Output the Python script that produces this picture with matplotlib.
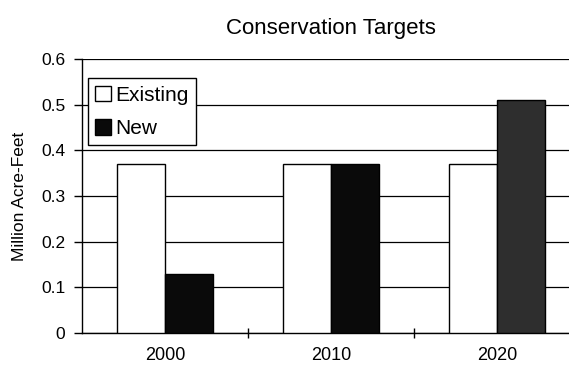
import numpy as np
import matplotlib.pyplot as plt

plt.rcParams['font.family'] = ['Liberation Sans', 'DejaVu Sans']

years = ['2000', '2010', '2020']
existing = [0.37, 0.37, 0.37]
new = [0.13, 0.37, 0.51]
new_colors = ['#0a0a0a', '#0a0a0a', '#2e2e2e']

fig = plt.figure(figsize=(5.69, 3.72), dpi=100)
ax = fig.add_axes([0.144, 0.105, 0.875, 0.736])

x = np.arange(len(years))
w = 0.29
ax.bar(x - w / 2, existing, w, color='white', edgecolor='black', linewidth=1, label='Existing', zorder=3)
ax.bar(x + w / 2, new, w, color=new_colors, edgecolor='black', linewidth=1, label='New', zorder=3)

ax.set_xlim(-0.5, 2.5)
ax.set_ylim(0, 0.6)
ax.set_yticks(np.arange(0, 0.61, 0.1))
ax.set_yticklabels(['0', '0.1', '0.2', '0.3', '0.4', '0.5', '0.6'], fontsize=12.5)
ax.yaxis.grid(True, color='black', linewidth=0.9, zorder=0)
ax.set_axisbelow(True)

ax.set_xticks(x)
ax.set_xticklabels(years, fontsize=13)
ax.set_xticks([0.5, 1.5, 2.5], minor=True)
ax.tick_params(axis='x', which='major', length=0, pad=10)
ax.tick_params(axis='x', which='minor', length=7, direction='inout', width=1)
ax.tick_params(axis='y', length=6, direction='out', width=1, pad=6)

for s in ['top', 'right']:
    ax.spines[s].set_visible(False)
for s in ['left', 'bottom']:
    ax.spines[s].set_linewidth(1)

ax.set_ylabel('Million Acre-Feet', fontsize=12.5, labelpad=10)
ax.set_title('Conservation Targets', fontsize=16, pad=18)

leg = ax.legend(loc='upper left', bbox_to_anchor=(0.012, 0.93), fontsize=15,
                frameon=True, fancybox=False, edgecolor='black', framealpha=1,
                handlelength=0.75, handleheight=0.75, handletextpad=0.2,
                borderpad=0.35, labelspacing=0.7, borderaxespad=0)
leg.get_frame().set_linewidth(1)

fig.savefig('out.png', dpi=100)
